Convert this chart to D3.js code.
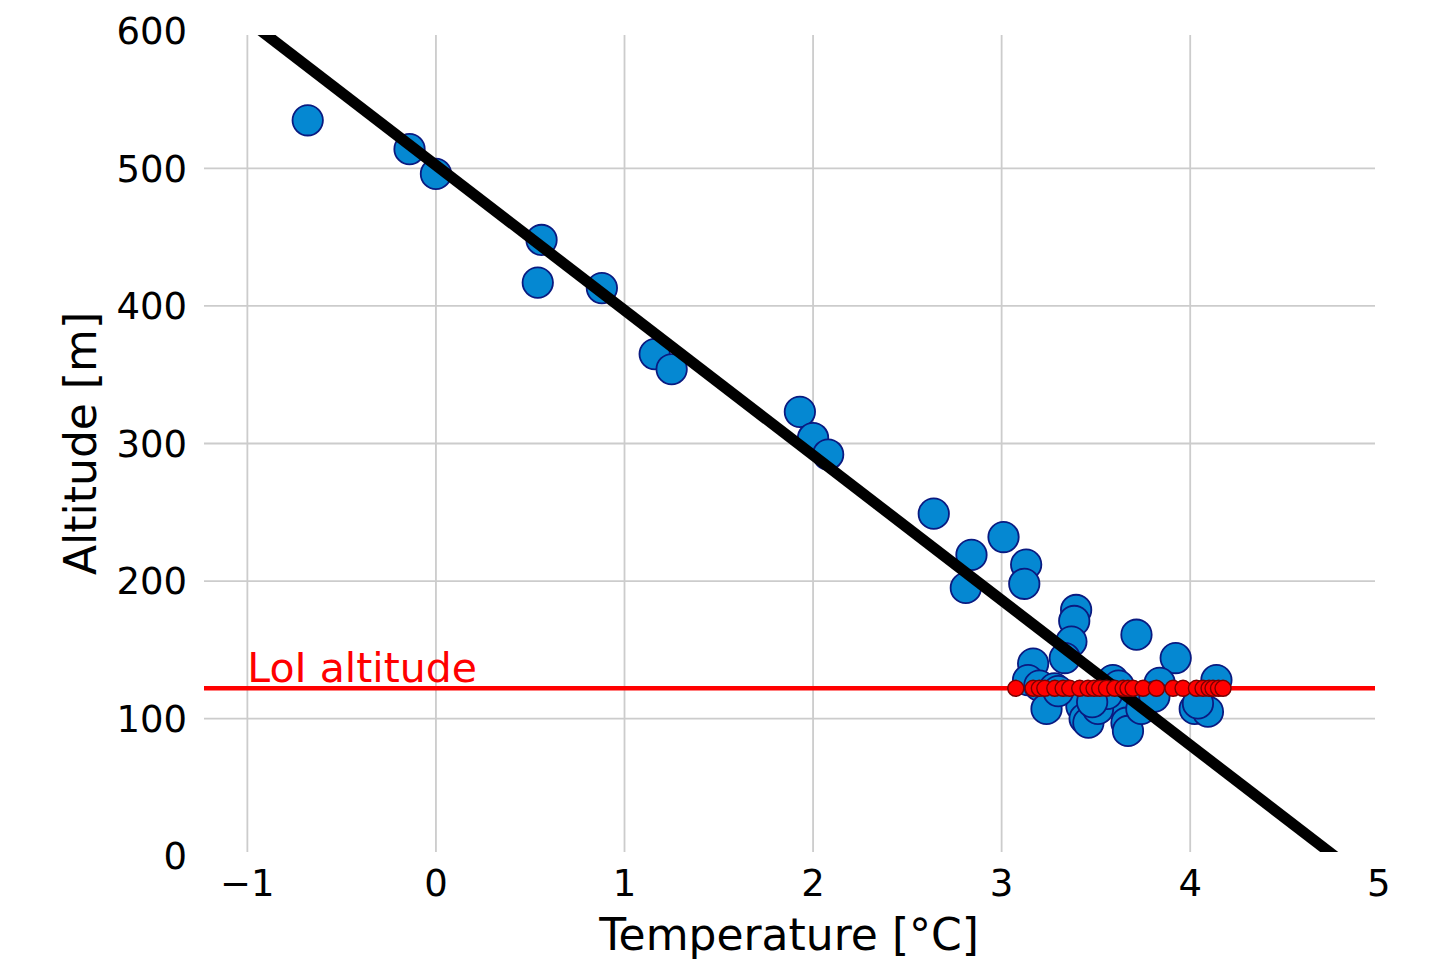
<!DOCTYPE html>
<html>
<head>
<meta charset="utf-8">
<script src="https://cdn.jsdelivr.net/npm/d3@7"></script>
<style>
  body { margin: 0; background: #fff; }
  svg { font-family: "DejaVu Sans", sans-serif; }
</style>
</head>
<body>
<div id="chart"></div>
<script>
// measured stations: temperature [°C] and altitude [m]
const stationTemp = [-0.68, -0.14, 0.0, 0.56, 0.54, 0.88, 1.16, 1.25, 1.93, 2.0, 2.08, 2.64, 3.01, 2.84, 2.81, 3.13, 3.12,
    3.395, 3.385, 3.37, 3.335, 3.167, 3.14, 3.2, 3.28, 3.238, 3.423, 3.44, 3.46, 3.715, 3.923, 3.59, 3.62, 3.838,
    4.139, 3.644, 3.662, 3.67, 3.741, 4.024, 4.094, 4.041, 3.511, 3.56, 3.81, 3.48, 3.3];
const stationAlt = [535, 514, 496, 448, 417, 413, 365, 354, 323, 304, 292, 249, 232, 219, 195, 212, 198,
    179, 171, 156, 144, 140, 128, 124, 122, 107, 109, 100, 97, 161, 144, 128, 124, 126,
    128, 109, 97, 91, 107, 107, 105, 111, 107, 118, 116, 112, 120];

// temperatures at the LoI altitude
const loiAltitude = 122;
const loiTemp = [3.075, 3.167, 3.2, 3.229, 3.282, 3.326, 3.361, 3.414, 3.458, 3.49, 3.52, 3.556, 3.6, 3.644, 3.67,
    3.697, 3.75, 3.821, 3.909, 3.962, 4.033, 4.068, 4.1, 4.121, 4.15, 4.174];

// linear fit altitude = a + b * T
const fitIntercept = 502.3, fitSlope = -105.4;
const fitTemp = [-1.5, 5.2];

const xTicks = [-1, 0, 1, 2, 3, 4, 5];
const yTicks = [0, 100, 200, 300, 400, 500, 600];

const W = 1443, H = 972;
const plot = {left: 204, right: 1375, top: 35, bottom: 852};

const svg = d3.select("#chart").append("svg")
    .attr("width", W).attr("height", H);

const x = d3.scaleLinear().domain([-1.23, 4.98]).range([plot.left, plot.right]);
const y = d3.scaleLinear().domain([3, 597]).range([plot.bottom, plot.top]);

svg.append("clipPath").attr("id", "clip")
    .append("rect")
    .attr("x", plot.left).attr("y", plot.top)
    .attr("width", plot.right - plot.left).attr("height", plot.bottom - plot.top);

// gridlines (only the ones inside the axes)
svg.append("g").selectAll("line")
    .data(xTicks.filter(d => x(d) >= plot.left && x(d) <= plot.right))
    .join("line")
    .attr("x1", d => x(d)).attr("x2", d => x(d))
    .attr("y1", plot.top).attr("y2", plot.bottom)
    .attr("stroke", "#cccccc").attr("stroke-width", 1.8);

svg.append("g").selectAll("line")
    .data(yTicks.filter(d => y(d) >= plot.top && y(d) <= plot.bottom))
    .join("line")
    .attr("x1", plot.left).attr("x2", plot.right)
    .attr("y1", d => y(d)).attr("y2", d => y(d))
    .attr("stroke", "#cccccc").attr("stroke-width", 1.8);

// tick labels
svg.append("g").selectAll("text")
    .data(xTicks)
    .join("text")
    .attr("x", d => x(d))
    .attr("y", 896)
    .attr("text-anchor", "middle")
    .style("font-size", "37px")
    .text(d => d < 0 ? "\u2212" + Math.abs(d) : d);

svg.append("g").selectAll("text")
    .data(yTicks)
    .join("text")
    .attr("x", 187)
    .attr("y", d => y(d))
    .attr("dy", "0.36em")
    .attr("text-anchor", "end")
    .style("font-size", "37px")
    .text(d => d);

// LoI altitude line
svg.append("line")
    .attr("x1", plot.left).attr("x2", plot.right)
    .attr("y1", y(loiAltitude)).attr("y2", y(loiAltitude))
    .attr("stroke", "#ff0000").attr("stroke-width", 4.5);

svg.append("text")
    .attr("x", x(-1))
    .attr("y", y(loiAltitude) - 6)
    .attr("fill", "#ff0000")
    .style("font-size", "41px")
    .text("LoI altitude");

// stations
svg.append("g").selectAll("circle")
    .data(d3.zip(stationTemp, stationAlt))
    .join("circle")
    .attr("cx", d => x(d[0]))
    .attr("cy", d => y(d[1]))
    .attr("r", 15.2)
    .attr("fill", "#0588d2")
    .attr("stroke", "#0a1a80")
    .attr("stroke-width", 1.8);

// fit line
svg.append("line")
    .attr("clip-path", "url(#clip)")
    .attr("x1", x(fitTemp[0])).attr("y1", y(fitIntercept + fitSlope * fitTemp[0]))
    .attr("x2", x(fitTemp[1])).attr("y2", y(fitIntercept + fitSlope * fitTemp[1]))
    .attr("stroke", "#000").attr("stroke-width", 11);

// points at the LoI altitude
svg.append("g").selectAll("circle")
    .data(loiTemp)
    .join("circle")
    .attr("cx", d => x(d))
    .attr("cy", y(loiAltitude))
    .attr("r", 8)
    .attr("fill", "#ff0000")
    .attr("stroke", "#7a0000")
    .attr("stroke-width", 1.4);

// axis labels
svg.append("text")
    .attr("x", (x(-1) + x(5)) / 2 - 24)
    .attr("y", 950)
    .attr("text-anchor", "middle")
    .style("font-size", "44px")
    .text("Temperature [°C]");

svg.append("text")
    .attr("transform", `translate(96, ${y(300)}) rotate(-90)`)
    .attr("text-anchor", "middle")
    .style("font-size", "44px")
    .text("Altitude [m]");
</script>
</body>
</html>
